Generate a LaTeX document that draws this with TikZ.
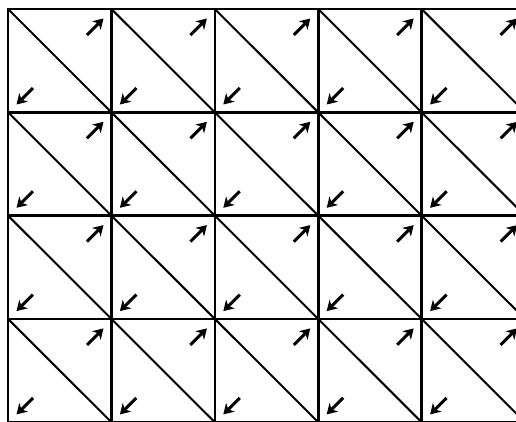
\documentclass[tikz,border=0pt]{standalone}
\usetikzlibrary{arrows.meta}
\begin{document}
\begin{tikzpicture}[x=1pt,y=-1pt,
  gridline/.style={line width=2.6pt,line cap=rect},
  diagline/.style={line width=2pt},
  arr/.style={line width=3pt,-{Stealth[length=10pt,width=12pt,inset=3pt]}}]
\useasboundingbox (0,0) rectangle (516,421);
\clip (0,0) rectangle (516,421);
\fill[white] (0,0) rectangle (516,421);
\foreach \i in {0,...,4}{
  \foreach \j in {0,...,3}{
    \pgfmathsetmacro\X{8+103.4*\i}
    \pgfmathsetmacro\Y{9+103.3*\j}
    \begin{scope}[shift={(\X,\Y)}]
      \draw[diagline] (0,0) -- (103.4,103.3);
      \draw[arr] (79,26) -- (95.5,9.5);
      \draw[arr] (25,79) -- (8.5,95.5);
    \end{scope}
  }
}
\foreach \j in {0,...,4}{
  \pgfmathsetmacro\Y{9+103.3*\j}
  \draw[gridline] (8,\Y) -- (540,\Y);
}
\foreach \i in {0,...,4}{
  \pgfmathsetmacro\X{8+103.4*\i}
  \draw[gridline] (\X,9) -- (\X,440);
}
\end{tikzpicture}
\end{document}
